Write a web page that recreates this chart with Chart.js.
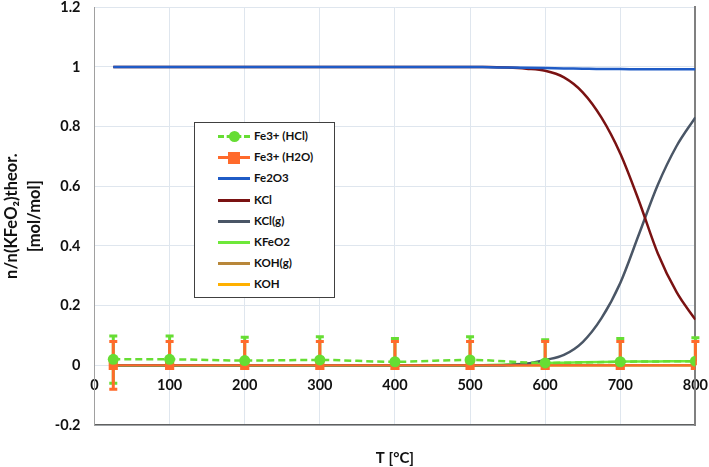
<!DOCTYPE html>
<html>
<head>
<meta charset="utf-8">
<script src="https://cdn.jsdelivr.net/npm/chart.js@4/dist/chart.umd.min.js"></script>
<style>
  body { margin: 0; background: #fff; }
  #wrap { position: relative; width: 709px; height: 467px; }
  #legend { position: absolute; left: 194px; top: 122px; width: 141px; height: 176px;
    border: 1px solid #404040; background: #fff; box-sizing: border-box;
    font-family: Lato, "Liberation Sans", sans-serif; font-weight: bold; font-size: 11.5px; color: #111; }
  .row { position: absolute; left: 0; height: 14px; line-height: 14px; }
  .sample { position: absolute; left: 23px; top: 6px; width: 32px; height: 0; }
  .lbl { position: absolute; left: 59px; top: 0; white-space: nowrap; }
</style>
</head>
<body>
<div id="wrap">
<canvas id="myChart" width="709" height="467"></canvas>
<div id="legend"></div>
</div>
<script>
// measured points (Fe3+ determinations)
var measT = [25, 100, 200, 300, 400, 500, 600, 700, 800];
var fe3HCl = [0.02, 0.02, 0.016, 0.018, 0.012, 0.018, 0.008, 0.012, 0.014];
var fe3HClErrPlus = [0.078, 0.078, 0.078, 0.078, 0.078, 0.078, 0.078, 0.078, 0.078];
var fe3HClErrMinus = [0.08, 0, 0, 0, 0, 0, 0, 0, 0];
var fe3H2O = [0, 0, 0, 0, 0, 0, 0, 0, 0];
var fe3H2OErrPlus = [0.08, 0.08, 0.08, 0.08, 0.08, 0.08, 0.08, 0.08, 0.08];
var fe3H2OErrMinus = [0.08, 0, 0, 0, 0, 0, 0, 0, 0];

// equilibrium calculation
var calcT = [25, 100, 200, 300, 400, 500, 525, 550, 575, 600, 625, 650, 675, 700, 725, 750, 775, 800];
var fe2o3 = [1, 1, 1, 1, 1, 1, 0.999, 0.998, 0.997, 0.996, 0.995, 0.994, 0.993, 0.993, 0.992, 0.992, 0.992, 0.992];
var kcl   = [1, 1, 1, 1, 1, 1, 1, 0.998, 0.994, 0.987, 0.965, 0.915, 0.83, 0.71, 0.55, 0.375, 0.245, 0.153];
var kclG  = [0, 0, 0, 0, 0, 0, 0, 0.001, 0.005, 0.018, 0.035, 0.078, 0.158, 0.276, 0.44, 0.605, 0.735, 0.831];
var kfeo2 = [0, 0, 0, 0, 0, 0, 0.001, 0.003, 0.005, 0.008, 0.009, 0.01, 0.011, 0.012, 0.013, 0.013, 0.014, 0.014];
var kohG  = [0, 0, 0, 0, 0, 0, 0, 0, 0, 0, 0, 0, 0, 0, 0, 0, 0, 0];
var koh   = [0, 0, 0, 0, 0, 0, 0, 0, 0, 0, 0, 0, 0, 0, 0, 0, 0, 0];

var xTicks = [0, 100, 200, 300, 400, 500, 600, 700, 800];

function pts(xs, ys){
    var out = [];
    for(var i = 0; i < xs.length; i++){ out.push({x: xs[i], y: ys[i]}); }
    return out;
}

var GREEN = '#66dd33', ORANGE = '#ff6a2b';

var series = [
    {label: 'Fe3+ (HCl)', data: pts(measT, fe3HCl), color: GREEN, dash: [7, 4], point: 'circle', radius: 5.5, width: 2.5,
     errPlus: fe3HClErrPlus, errMinus: fe3HClErrMinus},
    {label: 'Fe3+ (H2O)', data: pts(measT, fe3H2O), color: ORANGE, dash: [], point: 'rect', radius: 6.5, width: 2,
     errPlus: fe3H2OErrPlus, errMinus: fe3H2OErrMinus},
    {label: 'Fe2O3', data: pts(calcT, fe2o3), color: '#1f5bc6', width: 2.5},
    {label: 'KCl', data: pts(calcT, kcl), color: '#7a1212', width: 2.5},
    {label: 'KCl(g)', data: pts(calcT, kclG), color: '#4a5666', width: 2.5},
    {label: 'KFeO2', data: pts(calcT, kfeo2), color: '#6ee83a', width: 2.5},
    {label: 'KOH(g)', data: pts(calcT, kohG), color: '#b8873a', width: 2.5},
    {label: 'KOH', data: pts(calcT, koh), color: '#ffb000', width: 2.5}
];

var datasets = series.map(function(s){
    return {
        label: s.label,
        data: s.data,
        borderColor: s.color,
        backgroundColor: s.color,
        borderWidth: s.width,
        borderDash: s.dash || [],
        pointStyle: s.point || 'circle',
        pointRadius: s.point ? s.radius : 0,
        pointBorderWidth: 0,
        cubicInterpolationMode: 'monotone',
        errPlus: s.errPlus,
        errMinus: s.errMinus
    };
});

// error bars drawn through the chart scales
var errorBars = {
    id: 'errorBars',
    beforeDatasetsDraw: function(chart){
        var c = chart.ctx, xs = chart.scales.x, ys = chart.scales.y;
        c.save();
        chart.data.datasets.forEach(function(ds){
            if(!ds.errPlus) return;
            c.strokeStyle = ds.borderColor;
            c.lineWidth = 3;
            ds.data.forEach(function(p, i){
                var px = xs.getPixelForValue(p.x);
                var top = ys.getPixelForValue(p.y + ds.errPlus[i]);
                var bot = ys.getPixelForValue(p.y - ds.errMinus[i]);
                c.beginPath();
                c.moveTo(px, top); c.lineTo(px, bot);
                c.moveTo(px - 4, top); c.lineTo(px + 4, top);
                if(ds.errMinus[i] > 0){ c.moveTo(px - 4, bot); c.lineTo(px + 4, bot); }
                c.stroke();
            });
        });
        c.restore();
    }
};

var FONT = 'Lato, "Liberation Sans", sans-serif';
var ctx = document.getElementById('myChart').getContext('2d');

var myChart = new Chart(ctx, {
    type: 'line',
    data: {datasets: datasets},
    options: {
        responsive: false,
        animation: false,
        layout: {padding: 0},
        plugins: {legend: {display: false}, tooltip: {enabled: false}},
        scales: {
            // tick labels hang under the zero line
            x: {
                type: 'linear', min: 0, max: 800,
                position: {y: 0},
                afterBuildTicks: function(s){ s.ticks = xTicks.map(function(v){ return {value: v}; }); },
                grid: {color: '#dfe6ee', lineWidth: 1, drawTicks: true, tickLength: 10, tickColor: 'rgba(0,0,0,0)'},
                border: {display: true, color: '#dfe6ee'},
                ticks: {color: '#111', font: {family: FONT, size: 14.5, weight: 'bold'}, padding: 1, maxRotation: 0}
            },
            x2: {
                type: 'linear', min: 0, max: 800, position: 'bottom',
                grid: {display: false},
                border: {display: true, color: '#606060', width: 1.5},
                ticks: {display: false},
                title: {display: true, text: 'T [°C]', color: '#111', font: {family: FONT, size: 15, weight: 'bold'}, padding: {top: 16, bottom: 0}}
            },
            y: {
                min: -0.2, max: 1.2,
                afterFit: function(s){ s.width = 94.5; },
                ticks: {stepSize: 0.2, color: '#111', font: {family: FONT, size: 14.5, weight: 'bold', lineHeight: 1}, padding: 0,
                    callback: function(v){ return Math.round(v * 10) / 10; }},
                grid: {color: '#dfe6ee', lineWidth: 1, drawTicks: true, tickLength: 14, tickColor: 'rgba(0,0,0,0)'},
                border: {display: true, color: '#a0a0a0'},
                title: {display: true, text: ['n/n(KFeO₂)theor.', '[mol/mol]'], color: '#111',
                    font: {family: FONT, size: 16.5, weight: 'bold', lineHeight: 1.42}, padding: {top: 0, bottom: 0}}
            },
            y2: {
                min: -0.2, max: 1.2, position: 'right',
                afterFit: function(s){ s.width = 1; },
                grid: {display: false}, ticks: {display: false},
                border: {display: true, color: '#808080', width: 2}
            }
        }
    },
    plugins: [errorBars]
});

// html legend built from the series list
var leg = document.getElementById('legend');
series.forEach(function(s, i){
    var row = document.createElement('div');
    row.className = 'row';
    row.style.top = (6 + i * 21.2) + 'px';
    row.style.width = '100%';
    var line = document.createElement('div');
    line.className = 'sample';
    line.style.borderTop = '3px ' + (s.dash && s.dash.length ? 'dashed ' : 'solid ') + s.color;
    row.appendChild(line);
    if(s.point){
        var m = document.createElement('div');
        var d = s.point === 'rect' ? 12 : 11;
        m.style.cssText = 'position:absolute;left:' + (39 - d / 2) + 'px;top:' + (7.5 - d / 2) + 'px;width:' + d + 'px;height:' + d + 'px;background:' + s.color + ';' + (s.point === 'circle' ? 'border-radius:50%;' : '');
        row.appendChild(m);
    }
    var t = document.createElement('span');
    t.className = 'lbl';
    t.textContent = s.label;
    row.appendChild(t);
    leg.appendChild(row);
});
</script>
</body>
</html>
